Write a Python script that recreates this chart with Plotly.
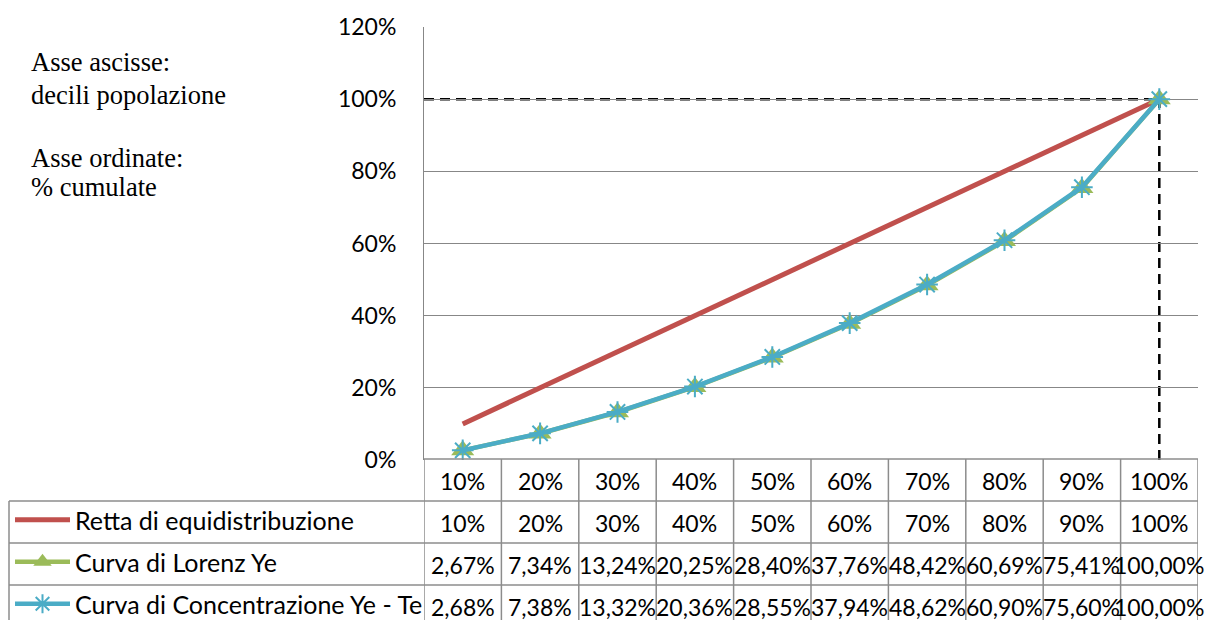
import plotly.graph_objects as go

# ---- data -------------------------------------------------------------
deciles = ["10%", "20%", "30%", "40%", "50%", "60%", "70%", "80%", "90%", "100%"]
retta = [0.10, 0.20, 0.30, 0.40, 0.50, 0.60, 0.70, 0.80, 0.90, 1.00]
lorenz = [0.0267, 0.0734, 0.1324, 0.2025, 0.2840, 0.3776, 0.4842, 0.6069, 0.7541, 1.0000]
concentrazione = [0.0268, 0.0738, 0.1332, 0.2036, 0.2855, 0.3794, 0.4862, 0.6090, 0.7560, 1.0000]
series_names = ["Retta di equidistribuzione", "Curva di Lorenz Ye", "Curva di Concentrazione Ye - Te"]
y_ticks = [0, 0.2, 0.4, 0.6, 0.8, 1.0, 1.2]
note_lines = ["Asse ascisse:", "decili popolazione", "Asse ordinate:", "% cumulate"]

# ---- styling ----------------------------------------------------------
W, H = 1208, 620
RED, GREEN, BLUE = "#C0504D", "#9BBB59", "#4BACC6"
GRID = "#878787"
SANS = "Lato"
SERIF = "Liberation Serif"
FS_NUM = 23
FS_LEG = 25


def px_x(x):
    return x / W


def px_y(y):
    return 1 - y / H


def pct_int(v):
    return f"{v * 100:.0f}%"


def pct_2(v):
    return f"{v * 100:.2f}%".replace(".", ",")


fig = go.Figure()
fig.add_trace(go.Scatter(
    x=deciles, y=retta, name=series_names[0], legendgroup="a",
    mode="lines", line=dict(color=RED, width=5),
))
fig.add_trace(go.Scatter(
    x=deciles, y=lorenz, name=series_names[1], legendgroup="b",
    mode="lines+markers", line=dict(color=GREEN, width=4.5),
    marker=dict(symbol="triangle-up", size=20, color=GREEN),
))
fig.add_trace(go.Scatter(
    x=deciles, y=concentrazione, name=series_names[2], legendgroup="c",
    mode="lines+markers", line=dict(color=BLUE, width=4.5),
    marker=dict(symbol="asterisk-open", size=18, line=dict(color=BLUE, width=2)),
))

shapes = []
last = len(deciles) - 1
# drop lines from the final point
dash_line = dict(color="black", width=2.5, dash="10px,6px")
shapes.append(dict(type="line", xref="x", yref="y", x0=-0.5, x1=last,
                   y0=concentrazione[last], y1=concentrazione[last],
                   line=dash_line, layer="below"))
shapes.append(dict(type="line", xref="x", yref="y", x0=last, x1=last,
                   y0=0, y1=concentrazione[last],
                   line=dash_line, layer="below"))

# data table grid
TBL = "#8C8C8C"
top_y, row_h = 459, 42
for i in range(len(deciles) + 1):
    shapes.append(dict(type="line", xref="x", yref="paper", x0=i - 0.5, x1=i - 0.5,
                       y0=px_y(top_y), y1=0, line=dict(color=TBL, width=1.5)))
shapes.append(dict(type="line", xref="paper", yref="paper", x0=px_x(424), x1=px_x(1198),
                   y0=px_y(top_y), y1=px_y(top_y), line=dict(color=TBL, width=1.5)))
for r in range(1, 4):
    yy = top_y + r * row_h
    shapes.append(dict(type="line", xref="paper", yref="paper", x0=px_x(9), x1=px_x(1198),
                       y0=px_y(yy), y1=px_y(yy), line=dict(color=TBL, width=1.5)))
shapes.append(dict(type="line", xref="paper", yref="paper", x0=px_x(9), x1=px_x(9),
                   y0=px_y(top_y + row_h), y1=0, line=dict(color=TBL, width=1.5)))

annotations = []
rows = [deciles, [pct_int(v) for v in retta], [pct_2(v) for v in lorenz],
        [pct_2(v) for v in concentrazione]]
for r, row in enumerate(rows):
    yc = top_y + r * row_h + row_h / 2 + 1
    for i, txt in enumerate(row):
        annotations.append(dict(x=i, y=px_y(yc), xref="x", yref="paper", text=txt,
                                showarrow=False, xanchor="center", yanchor="middle",
                                font=dict(family=SANS, size=FS_NUM, color="black")))

for txt, yc in zip(note_lines, [62, 95, 158, 187]):
    annotations.append(dict(x=px_x(29), y=px_y(yc), xref="paper", yref="paper", text=txt,
                            showarrow=False, xanchor="left", yanchor="middle",
                            font=dict(family=SERIF, size=26.5, color="black")))

fig.update_layout(
    width=W, height=H,
    margin=dict(l=0, r=0, t=0, b=0, autoexpand=False),
    paper_bgcolor="white", plot_bgcolor="white",
    showlegend=True,
    legend=dict(x=px_x(10), y=px_y(497), xanchor="left", yanchor="top",
                traceorder="grouped", tracegroupgap=6.5,
                font=dict(family=SANS, size=FS_LEG, color="black"),
                itemwidth=55, bgcolor="rgba(0,0,0,0)"),
    xaxis=dict(type="category", range=[-0.5, len(deciles) - 0.5],
               domain=[px_x(424), px_x(1198)], showticklabels=False,
               showgrid=False, zeroline=False, showline=False),
    yaxis=dict(range=[0, 1.2], domain=[px_y(460), px_y(27)], tickvals=y_ticks,
               tickformat=".0%", showgrid=True, gridcolor=GRID, gridwidth=1,
               zeroline=False, showline=True, linecolor=GRID, linewidth=1,
               ticks="", ticklabelstandoff=22,
               tickfont=dict(family=SANS, size=FS_NUM, color="black")),
    shapes=shapes, annotations=annotations,
)

fig.write_html("out.html")
